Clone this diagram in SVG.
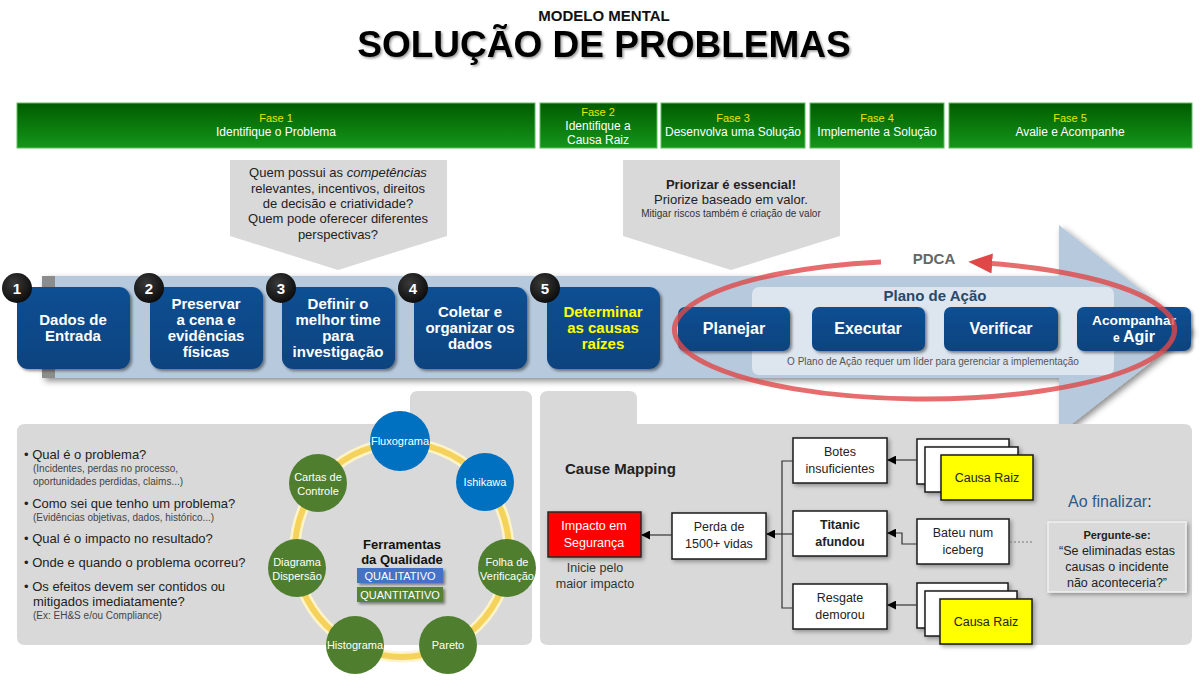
<svg xmlns="http://www.w3.org/2000/svg" width="1200" height="682" viewBox="0 0 1200 682">
<defs>
<linearGradient id="gGreen" x1="0" y1="0" x2="0" y2="1">
<stop offset="0" stop-color="#005c00"/>
<stop offset="1" stop-color="#15961a"/>
</linearGradient>
<linearGradient id="gBlue" x1="0" y1="0" x2="0" y2="1">
<stop offset="0" stop-color="#0d4f93"/>
<stop offset="1" stop-color="#0a437f"/>
</linearGradient>
<radialGradient id="gNum" cx="0.4" cy="0.35" r="0.7">
<stop offset="0" stop-color="#3a3a3a"/>
<stop offset="1" stop-color="#0a0a0a"/>
</radialGradient>
<filter id="sh" x="-20%" y="-20%" width="150%" height="150%">
<feDropShadow dx="2" dy="2" stdDeviation="1.5" flood-color="#000" flood-opacity="0.45"/>
</filter>
<filter id="shSoft" x="-20%" y="-20%" width="150%" height="150%">
<feDropShadow dx="2" dy="2" stdDeviation="2" flood-color="#000" flood-opacity="0.35"/>
</filter>
<filter id="shBig" x="-10%" y="-10%" width="130%" height="130%">
<feDropShadow dx="3" dy="3" stdDeviation="3" flood-color="#000" flood-opacity="0.45"/>
</filter>
<filter id="tsh" x="-5%" y="-20%" width="110%" height="150%">
<feDropShadow dx="1.5" dy="1.5" stdDeviation="1" flood-color="#000" flood-opacity="0.4"/>
</filter>
<marker id="arrB" viewBox="0 0 10 10" refX="9" refY="5" markerWidth="9" markerHeight="9" markerUnits="userSpaceOnUse" orient="auto">
<path d="M0,0 L10,5 L0,10 z" fill="#000"/>
</marker>
<marker id="arrR" viewBox="0 0 10 10" refX="3" refY="5" markerWidth="24" markerHeight="20" markerUnits="userSpaceOnUse" orient="auto" preserveAspectRatio="none">
<path d="M0,0 L10,5 L0,10 z" fill="#e04848"/>
</marker>
</defs>
<style>
text{font-family:"Liberation Sans",Arial,sans-serif}
.ph{fill:url(#gGreen);stroke:#5fbf5f;stroke-width:1}
.phn{fill:#e8e800;font-size:11px;text-anchor:middle}
.pht{fill:#fff;font-size:12px;text-anchor:middle}
.call{fill:#d9d9d9}
.ct{fill:#222;font-size:13px;text-anchor:middle}
.step{fill:url(#gBlue);filter:url(#sh)}
.st{fill:#fff;font-size:15px;font-weight:bold;text-anchor:middle}
.sty{fill:#ffff00;font-size:15px;font-weight:bold;text-anchor:middle}
.num{fill:url(#gNum)}
.nt{fill:#fff;font-size:15px;font-weight:bold;text-anchor:middle}
.pt{fill:#fff;font-size:16px;font-weight:bold;text-anchor:middle}
.panel{fill:#d9d9d9}
.q{fill:#222;font-size:13px}
.qs{fill:#444;font-size:10px}
.tb{fill:#0070c0}
.tg{fill:#4f7f2e}
.tt{fill:#fff;font-size:11px;text-anchor:middle}
.box{fill:#fff;stroke:#1a1a1a;stroke-width:1.5;filter:url(#shSoft)}
.bt{fill:#222;font-size:12.5px;text-anchor:middle}
.yb{fill:#ffff00;stroke:#1a1a1a;stroke-width:1.5;filter:url(#shSoft)}
.ln{fill:none;stroke:#333;stroke-width:1.2}
</style>
<rect width="1200" height="682" fill="#fff"/>

<g id="title">
<text x="604" y="21" font-size="15" font-weight="bold" text-anchor="middle" fill="#111">MODELO MENTAL</text>
<text x="604" y="57" font-size="37" font-weight="bold" text-anchor="middle" fill="#000" filter="url(#tsh)">SOLUÇÃO DE PROBLEMAS</text>
</g>

<g id="phases">
<rect class="ph" x="17" y="103" width="518" height="45"/>
<text class="phn" x="276" y="122">Fase 1</text>
<text class="pht" x="276" y="136">Identifique o Problema</text>
<rect class="ph" x="540" y="103" width="117" height="45"/>
<text class="phn" x="598" y="116">Fase 2</text>
<text class="pht" x="598" y="130">Identifique a</text>
<text class="pht" x="598" y="144">Causa Raiz</text>
<rect class="ph" x="661" y="103" width="144" height="45"/>
<text class="phn" x="733" y="122">Fase 3</text>
<text class="pht" x="733" y="136" textLength="136" lengthAdjust="spacingAndGlyphs">Desenvolva uma Solução</text>
<rect class="ph" x="810" y="103" width="134" height="45"/>
<text class="phn" x="877" y="122">Fase 4</text>
<text class="pht" x="877" y="136">Implemente a Solução</text>
<rect class="ph" x="949" y="103" width="243" height="45"/>
<text class="phn" x="1070" y="122">Fase 5</text>
<text class="pht" x="1070" y="136">Avalie e Acompanhe</text>
</g>

<g id="callout-team">
<polygon class="call" points="230,160 447,160 447,236 338,270 230,236"/>
<text class="ct" x="338" y="177">Quem possui as <tspan font-style="italic">competências</tspan></text>
<text class="ct" x="338" y="193">relevantes,  incentivos,  direitos</text>
<text class="ct" x="338" y="208">de decisão e criatividade?</text>
<text class="ct" x="338" y="223">Quem pode oferecer diferentes</text>
<text class="ct" x="338" y="239">perspectivas?</text>
</g>

<g id="callout-prior">
<polygon class="call" points="623,160 840,160 840,236 731,270 623,236"/>
<text class="ct" x="731" y="189" font-weight="bold">Priorizar é essencial!</text>
<text class="ct" x="731" y="204">Priorize baseado em valor.</text>
<text x="731" y="217" font-size="10" text-anchor="middle" fill="#333">Mitigar riscos também  é criação de valor</text>
</g>

<g id="process-arrow">
<polygon points="1059,225 1192,330 1059,434 1059,378 42,378 42,276 1059,276" fill="#b6c9dd" filter="url(#shBig)"/>
<rect x="42" y="276" width="13" height="102" fill="#8c8c8c"/>
</g>

<g id="step1">
<rect class="step" x="17" y="287" width="113" height="82" rx="11"/>
<circle class="num" cx="17" cy="288" r="15"/>
<text class="nt" x="17" y="294">1</text>
<text class="st" x="73" y="325">Dados de</text>
<text class="st" x="73" y="341">Entrada</text>
</g>
<g id="step2">
<rect class="step" x="150" y="287" width="113" height="82" rx="11"/>
<circle class="num" cx="149" cy="288" r="15"/>
<text class="nt" x="149" y="294">2</text>
<text class="st" x="206" y="309">Preservar</text>
<text class="st" x="206" y="325">a cena e</text>
<text class="st" x="206" y="341">evidências</text>
<text class="st" x="206" y="357">físicas</text>
</g>
<g id="step3">
<rect class="step" x="282" y="287" width="113" height="82" rx="11"/>
<circle class="num" cx="281" cy="288" r="15"/>
<text class="nt" x="281" y="294">3</text>
<text class="st" x="338" y="309">Definir o</text>
<text class="st" x="338" y="325">melhor time</text>
<text class="st" x="338" y="341">para</text>
<text class="st" x="338" y="357">investigação</text>
</g>
<g id="step4">
<rect class="step" x="414" y="287" width="113" height="82" rx="11"/>
<circle class="num" cx="413" cy="288" r="15"/>
<text class="nt" x="413" y="294">4</text>
<text class="st" x="470" y="317">Coletar e</text>
<text class="st" x="470" y="333">organizar os</text>
<text class="st" x="470" y="349">dados</text>
</g>
<g id="step5">
<rect class="step" x="547" y="287" width="113" height="82" rx="11"/>
<circle class="num" cx="545" cy="288" r="15"/>
<text class="nt" x="545" y="294">5</text>
<text class="sty" x="603" y="317">Determinar</text>
<text class="sty" x="603" y="333">as causas</text>
<text class="sty" x="603" y="349">raízes</text>
</g>

<g id="action-plan">
<rect x="752" y="287" width="362" height="88" rx="7" fill="#dde5ef"/>
<text x="935" y="301" font-size="15" font-weight="bold" text-anchor="middle" fill="#2b4867">Plano de Ação</text>
<text x="933" y="365" font-size="10" text-anchor="middle" fill="#555">O Plano de Ação requer um líder para gerenciar a implementação</text>
</g>
<g id="planejar">
<rect class="step" x="678" y="307" width="112" height="44" rx="7"/>
<text class="pt" x="734" y="334">Planejar</text>
</g>
<g id="executar">
<rect class="step" x="812" y="307" width="113" height="44" rx="7"/>
<text class="pt" x="868" y="334">Executar</text>
</g>
<g id="verificar">
<rect class="step" x="944" y="307" width="114" height="44" rx="7"/>
<text class="pt" x="1001" y="334">Verificar</text>
</g>
<g id="agir">
<rect class="step" x="1077" y="307" width="114" height="44" rx="7"/>
<text x="1092" y="325" font-size="12" font-weight="bold" fill="#fff" textLength="84" lengthAdjust="spacingAndGlyphs">Acompanhar</text>
<text x="1134" y="342" font-size="16" font-weight="bold" text-anchor="middle" fill="#fff"><tspan font-size="12">e </tspan>Agir</text>
</g>

<g id="pdca">
<text x="934" y="264" font-size="15" font-weight="bold" text-anchor="middle" fill="#666">PDCA</text>
</g>

<g id="left-panel">
<path class="panel" d="M418,391 H524 Q532,391 532,399 V637 Q532,645 524,645 H25 Q17,645 17,637 V432 Q17,424 25,424 H410 V399 Q410,391 418,391 Z"/>
<text class="q" x="24" y="459">• Qual é o problema?</text>
<text class="qs" x="33" y="472">(Incidentes, perdas no processo,</text>
<text class="qs" x="33" y="485">oportunidades perdidas, claims...)</text>
<text class="q" x="24" y="508">• Como sei que tenho um problema?</text>
<text class="qs" x="33" y="521">(Evidências objetivas, dados, histórico...)</text>
<text class="q" x="24" y="543">• Qual é o impacto no resultado?</text>
<text class="q" x="24" y="567">• Onde e quando o problema ocorreu?</text>
<text class="q" x="24" y="591">• Os efeitos devem ser contidos ou</text>
<text class="q" x="33" y="606">mitigados imediatamente?</text>
<text class="qs" x="33" y="619">(Ex: EH&amp;S e/ou Compliance)</text>
</g>

<g id="quality-ring">
<circle cx="402" cy="550" r="107" fill="none" stroke="#fff4c8" stroke-width="11"/>
<circle cx="402" cy="550" r="107" fill="none" stroke="#f5d25c" stroke-width="6"/>
<text x="402" y="549" font-size="13" font-weight="bold" text-anchor="middle" fill="#111">Ferramentas</text>
<text x="402" y="564" font-size="13" font-weight="bold" text-anchor="middle" fill="#111">da Qualidade</text>
</g>
<g id="qualitativo">
<rect x="357" y="568" width="86" height="15" fill="#4472c4" filter="url(#sh)"/>
<text class="tt" x="400" y="580">QUALITATIVO</text>
</g>
<g id="quantitativo">
<rect x="357" y="587" width="86" height="15" fill="#548235" filter="url(#sh)"/>
<text class="tt" x="400" y="599">QUANTITATIVO</text>
</g>
<g id="fluxograma"><circle class="tb" cx="400" cy="441" r="30"/><text class="tt" x="400" y="445">Fluxograma</text></g>
<g id="ishikawa"><circle class="tb" cx="485" cy="482" r="29"/><text class="tt" x="485" y="486">Ishikawa</text></g>
<g id="folha"><circle class="tg" cx="507" cy="568" r="29"/><text class="tt" x="507" y="566">Folha de</text><text class="tt" x="507" y="580">Verificação</text></g>
<g id="pareto"><circle class="tg" cx="448" cy="645" r="29"/><text class="tt" x="448" y="649">Pareto</text></g>
<g id="histograma"><circle class="tg" cx="355" cy="645" r="29"/><text class="tt" x="355" y="649">Histograma</text></g>
<g id="dispersao"><circle class="tg" cx="297" cy="568" r="29"/><text class="tt" x="297" y="566">Diagrama</text><text class="tt" x="297" y="580">Dispersão</text></g>
<g id="cartas"><circle class="tg" cx="318" cy="483" r="29"/><text class="tt" x="318" y="481">Cartas de</text><text class="tt" x="318" y="495">Controle</text></g>

<g id="right-panel">
<path class="panel" d="M548,391 H629 Q637,391 637,399 V424 H1184 Q1192,424 1192,432 V637 Q1192,645 1184,645 H548 Q540,645 540,637 V399 Q540,391 548,391 Z"/>
<text x="565" y="474" font-size="15" font-weight="bold" fill="#222">Cause Mapping</text>
</g>

<g id="impacto">
<rect x="548" y="512" width="93" height="45" fill="#ff0000" stroke="#2a2a2a" stroke-width="1.5" filter="url(#shSoft)"/>
<text x="594" y="530" font-size="12.5" text-anchor="middle" fill="#fff">Impacto em</text>
<text x="594" y="547" font-size="12.5" text-anchor="middle" fill="#fff">Segurança</text>
<text x="595" y="572" font-size="12.5" text-anchor="middle" fill="#333">Inicie pelo</text>
<text x="595" y="588" font-size="12.5" text-anchor="middle" fill="#333">maior impacto</text>
</g>
<g id="perda">
<rect class="box" x="672" y="513" width="94" height="46"/>
<text class="bt" x="719" y="531">Perda de</text>
<text class="bt" x="719" y="548">1500+ vidas</text>
</g>
<g id="botes">
<rect class="box" x="793" y="438" width="94" height="45"/>
<text class="bt" x="840" y="456">Botes</text>
<text class="bt" x="840" y="473">insuficientes</text>
</g>
<g id="titanic">
<rect class="box" x="793" y="511" width="94" height="45"/>
<text class="bt" x="840" y="529" font-weight="bold">Titanic</text>
<text class="bt" x="840" y="546" font-weight="bold">afundou</text>
</g>
<g id="resgate">
<rect class="box" x="793" y="584" width="94" height="45"/>
<text class="bt" x="840" y="602">Resgate</text>
<text class="bt" x="840" y="619">demorou</text>
</g>
<g id="causa1">
<rect class="box" x="917" y="439" width="92" height="45"/>
<rect class="box" x="925" y="447" width="93" height="45"/>
<rect class="yb" x="941" y="455" width="92" height="45"/>
<text class="bt" x="987" y="482">Causa Raiz</text>
</g>
<g id="bateu">
<rect class="box" x="917" y="519" width="92" height="45"/>
<text class="bt" x="963" y="537">Bateu num</text>
<text class="bt" x="963" y="554">iceberg</text>
</g>
<g id="causa2">
<rect class="box" x="917" y="583" width="91" height="45"/>
<rect class="box" x="925" y="591" width="92" height="45"/>
<rect class="yb" x="940" y="599" width="92" height="45"/>
<text class="bt" x="986" y="626">Causa Raiz</text>
</g>

<g id="finalizar">
<text x="1068" y="507" font-size="16" fill="#2e5a88">Ao finalizar<tspan fill="#222">:</tspan></text>
<rect x="1048" y="522" width="138" height="70" fill="#d9d9d9" stroke="#f0f0f0" stroke-width="1.5" filter="url(#shSoft)"/>
<text x="1117" y="539" font-size="11" font-weight="bold" text-anchor="middle" fill="#222">Pergunte-se:</text>
<text x="1117" y="555" font-size="12.5" text-anchor="middle" fill="#222">“Se eliminadas estas</text>
<text x="1117" y="571" font-size="12.5" text-anchor="middle" fill="#222">causas o incidente</text>
<text x="1117" y="587" font-size="12.5" text-anchor="middle" fill="#222">não aconteceria?”</text>
</g>

<g id="connectors">
<line class="ln" x1="672" y1="535" x2="642" y2="535" marker-end="url(#arrB)"/>
<line class="ln" x1="793" y1="534" x2="767" y2="534" marker-end="url(#arrB)"/>
<polyline class="ln" points="793,461 782,461 782,608 793,608"/>
<line class="ln" x1="917" y1="460" x2="888" y2="460" marker-end="url(#arrB)"/>
<polyline class="ln" points="917,544 902,544 902,533 888,533" marker-end="url(#arrB)"/>
<line class="ln" x1="917" y1="605" x2="888" y2="605" marker-end="url(#arrB)"/>
<line x1="1010" y1="542" x2="1032" y2="542" stroke="#777" stroke-width="1" stroke-dasharray="2,2"/>
<path d="M881,262 A250,69 0 1 0 985,263" fill="none" stroke="#e04848" stroke-opacity="0.8" stroke-width="5" marker-end="url(#arrR)"/>
</g>
</svg>
